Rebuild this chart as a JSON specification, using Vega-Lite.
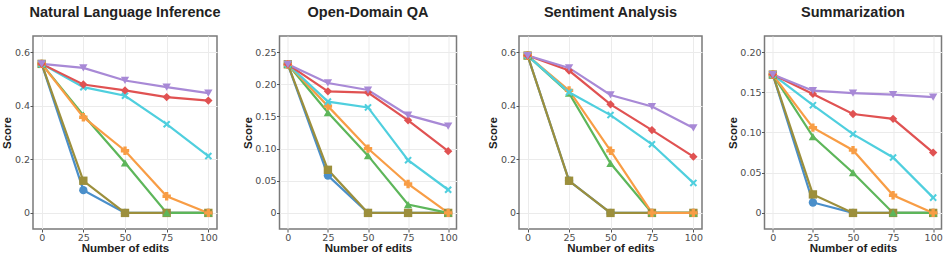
{
  "$schema": "https://vega.github.io/schema/vega-lite/v6.json",
  "background": "white",
  "padding": {"left": 1, "top": 3, "right": 0, "bottom": 0},
  "bounds": "flush",
  "spacing": 62.5,
  "config": {
    "view": {"stroke": "#7a7a7a", "strokeWidth": 1.5},
    "title": {"font": "Liberation Sans", "fontSize": 14.5, "fontWeight": "bold", "color": "#222222", "offset": 16},
    "axis": {
      "labelFont": "DejaVu Sans", "labelFontSize": 9.5, "labelColor": "#4d4d4d",
      "titleFont": "Liberation Sans", "titleFontSize": 11.5, "titleFontWeight": "bold", "titleColor": "#222222",
      "gridColor": "#ebebeb", "gridWidth": 1, "domain": false,
      "tickColor": "#555555", "tickSize": 3, "labelPadding": 0.5
    },
    "axisX": {"titleY": 13.5, "titleBaseline": "top", "labelPadding": 0},
    "axisY": {"titlePadding": 1.5}
  },
  "data": {"values": [
    {"task":"NLI","method":"m1","edits":0,"score":0.556},{"task":"NLI","method":"m1","edits":25,"score":0.085},{"task":"NLI","method":"m1","edits":50,"score":0},{"task":"NLI","method":"m1","edits":75,"score":0},{"task":"NLI","method":"m1","edits":100,"score":0},
    {"task":"NLI","method":"m2","edits":0,"score":0.556},{"task":"NLI","method":"m2","edits":25,"score":0.12},{"task":"NLI","method":"m2","edits":50,"score":0},{"task":"NLI","method":"m2","edits":75,"score":0},{"task":"NLI","method":"m2","edits":100,"score":0},
    {"task":"NLI","method":"m3","edits":0,"score":0.556},{"task":"NLI","method":"m3","edits":25,"score":0.365},{"task":"NLI","method":"m3","edits":50,"score":0.187},{"task":"NLI","method":"m3","edits":75,"score":0},{"task":"NLI","method":"m3","edits":100,"score":0},
    {"task":"NLI","method":"m4","edits":0,"score":0.556},{"task":"NLI","method":"m4","edits":25,"score":0.357},{"task":"NLI","method":"m4","edits":50,"score":0.232},{"task":"NLI","method":"m4","edits":75,"score":0.062},{"task":"NLI","method":"m4","edits":100,"score":0},
    {"task":"NLI","method":"m5","edits":0,"score":0.556},{"task":"NLI","method":"m5","edits":25,"score":0.469},{"task":"NLI","method":"m5","edits":50,"score":0.437},{"task":"NLI","method":"m5","edits":75,"score":0.331},{"task":"NLI","method":"m5","edits":100,"score":0.212},
    {"task":"NLI","method":"m6","edits":0,"score":0.556},{"task":"NLI","method":"m6","edits":25,"score":0.479},{"task":"NLI","method":"m6","edits":50,"score":0.457},{"task":"NLI","method":"m6","edits":75,"score":0.432},{"task":"NLI","method":"m6","edits":100,"score":0.419},
    {"task":"NLI","method":"m7","edits":0,"score":0.556},{"task":"NLI","method":"m7","edits":25,"score":0.541},{"task":"NLI","method":"m7","edits":50,"score":0.494},{"task":"NLI","method":"m7","edits":75,"score":0.469},{"task":"NLI","method":"m7","edits":100,"score":0.447},

    {"task":"QA","method":"m1","edits":0,"score":0.231},{"task":"QA","method":"m1","edits":25,"score":0.058},{"task":"QA","method":"m1","edits":50,"score":0},{"task":"QA","method":"m1","edits":75,"score":0},{"task":"QA","method":"m1","edits":100,"score":0},
    {"task":"QA","method":"m2","edits":0,"score":0.231},{"task":"QA","method":"m2","edits":25,"score":0.067},{"task":"QA","method":"m2","edits":50,"score":0},{"task":"QA","method":"m2","edits":75,"score":0},{"task":"QA","method":"m2","edits":100,"score":0},
    {"task":"QA","method":"m3","edits":0,"score":0.231},{"task":"QA","method":"m3","edits":25,"score":0.156},{"task":"QA","method":"m3","edits":50,"score":0.089},{"task":"QA","method":"m3","edits":75,"score":0.013},{"task":"QA","method":"m3","edits":100,"score":0},
    {"task":"QA","method":"m4","edits":0,"score":0.231},{"task":"QA","method":"m4","edits":25,"score":0.166},{"task":"QA","method":"m4","edits":50,"score":0.100},{"task":"QA","method":"m4","edits":75,"score":0.045},{"task":"QA","method":"m4","edits":100,"score":0},
    {"task":"QA","method":"m5","edits":0,"score":0.231},{"task":"QA","method":"m5","edits":25,"score":0.173},{"task":"QA","method":"m5","edits":50,"score":0.164},{"task":"QA","method":"m5","edits":75,"score":0.082},{"task":"QA","method":"m5","edits":100,"score":0.036},
    {"task":"QA","method":"m6","edits":0,"score":0.231},{"task":"QA","method":"m6","edits":25,"score":0.189},{"task":"QA","method":"m6","edits":50,"score":0.187},{"task":"QA","method":"m6","edits":75,"score":0.144},{"task":"QA","method":"m6","edits":100,"score":0.096},
    {"task":"QA","method":"m7","edits":0,"score":0.231},{"task":"QA","method":"m7","edits":25,"score":0.202},{"task":"QA","method":"m7","edits":50,"score":0.191},{"task":"QA","method":"m7","edits":75,"score":0.152},{"task":"QA","method":"m7","edits":100,"score":0.135},

    {"task":"SA","method":"m1","edits":0,"score":0.587},{"task":"SA","method":"m1","edits":25,"score":0.12},{"task":"SA","method":"m1","edits":50,"score":0},{"task":"SA","method":"m1","edits":75,"score":0},{"task":"SA","method":"m1","edits":100,"score":0},
    {"task":"SA","method":"m2","edits":0,"score":0.587},{"task":"SA","method":"m2","edits":25,"score":0.12},{"task":"SA","method":"m2","edits":50,"score":0},{"task":"SA","method":"m2","edits":75,"score":0},{"task":"SA","method":"m2","edits":100,"score":0},
    {"task":"SA","method":"m3","edits":0,"score":0.587},{"task":"SA","method":"m3","edits":25,"score":0.447},{"task":"SA","method":"m3","edits":50,"score":0.185},{"task":"SA","method":"m3","edits":75,"score":0},{"task":"SA","method":"m3","edits":100,"score":0},
    {"task":"SA","method":"m4","edits":0,"score":0.587},{"task":"SA","method":"m4","edits":25,"score":0.457},{"task":"SA","method":"m4","edits":50,"score":0.232},{"task":"SA","method":"m4","edits":75,"score":0},{"task":"SA","method":"m4","edits":100,"score":0},
    {"task":"SA","method":"m5","edits":0,"score":0.587},{"task":"SA","method":"m5","edits":25,"score":0.450},{"task":"SA","method":"m5","edits":50,"score":0.365},{"task":"SA","method":"m5","edits":75,"score":0.256},{"task":"SA","method":"m5","edits":100,"score":0.112},
    {"task":"SA","method":"m6","edits":0,"score":0.587},{"task":"SA","method":"m6","edits":25,"score":0.531},{"task":"SA","method":"m6","edits":50,"score":0.405},{"task":"SA","method":"m6","edits":75,"score":0.309},{"task":"SA","method":"m6","edits":100,"score":0.210},
    {"task":"SA","method":"m7","edits":0,"score":0.587},{"task":"SA","method":"m7","edits":25,"score":0.541},{"task":"SA","method":"m7","edits":50,"score":0.440},{"task":"SA","method":"m7","edits":75,"score":0.397},{"task":"SA","method":"m7","edits":100,"score":0.317},

    {"task":"SUM","method":"m1","edits":0,"score":0.172},{"task":"SUM","method":"m1","edits":25,"score":0.013},{"task":"SUM","method":"m1","edits":50,"score":0},{"task":"SUM","method":"m1","edits":75,"score":0},{"task":"SUM","method":"m1","edits":100,"score":0},
    {"task":"SUM","method":"m2","edits":0,"score":0.172},{"task":"SUM","method":"m2","edits":25,"score":0.023},{"task":"SUM","method":"m2","edits":50,"score":0},{"task":"SUM","method":"m2","edits":75,"score":0},{"task":"SUM","method":"m2","edits":100,"score":0},
    {"task":"SUM","method":"m3","edits":0,"score":0.172},{"task":"SUM","method":"m3","edits":25,"score":0.095},{"task":"SUM","method":"m3","edits":50,"score":0.050},{"task":"SUM","method":"m3","edits":75,"score":0},{"task":"SUM","method":"m3","edits":100,"score":0},
    {"task":"SUM","method":"m4","edits":0,"score":0.172},{"task":"SUM","method":"m4","edits":25,"score":0.106},{"task":"SUM","method":"m4","edits":50,"score":0.078},{"task":"SUM","method":"m4","edits":75,"score":0.022},{"task":"SUM","method":"m4","edits":100,"score":0},
    {"task":"SUM","method":"m5","edits":0,"score":0.172},{"task":"SUM","method":"m5","edits":25,"score":0.134},{"task":"SUM","method":"m5","edits":50,"score":0.098},{"task":"SUM","method":"m5","edits":75,"score":0.069},{"task":"SUM","method":"m5","edits":100,"score":0.019},
    {"task":"SUM","method":"m6","edits":0,"score":0.172},{"task":"SUM","method":"m6","edits":25,"score":0.148},{"task":"SUM","method":"m6","edits":50,"score":0.123},{"task":"SUM","method":"m6","edits":75,"score":0.117},{"task":"SUM","method":"m6","edits":100,"score":0.075},
    {"task":"SUM","method":"m7","edits":0,"score":0.172},{"task":"SUM","method":"m7","edits":25,"score":0.152},{"task":"SUM","method":"m7","edits":50,"score":0.149},{"task":"SUM","method":"m7","edits":75,"score":0.147},{"task":"SUM","method":"m7","edits":100,"score":0.144}
  ]},
  "hconcat": [
    {
      "width": 184, "height": 193,
      "title": "Natural Language Inference",
      "transform": [{"filter": "datum.task == 'NLI'"}],
      "encoding": {
        "x": {"field": "edits", "type": "quantitative", "scale": {"domain": [-5.2, 105.2], "nice": false, "zero": false}, "axis": {"values": [0, 25, 50, 75, 100], "title": "Number of edits"}},
        "y": {"field": "score", "type": "quantitative", "scale": {"domain": [-0.06, 0.66], "nice": false, "zero": false}, "axis": {"values": [0, 0.2, 0.4, 0.6], "labelExpr": "datum.value == 0 ? '0' : format(datum.value, '.1f')", "title": "Score"}},
        "color": {"field": "method", "type": "nominal", "legend": null, "scale": {"domain": ["m1","m2","m3","m4","m5","m6","m7"], "range": ["#4a8fca","#9c8f3c","#5db65a","#f89d45","#4fcfde","#e05252","#a889d6"]}}
      },
      "layer": [
        {"mark": {"type": "line", "strokeWidth": 2.2}},
        {"mark": {"type": "point", "filled": true, "opacity": 1},
         "encoding": {
           "shape": {"field": "method", "type": "nominal", "legend": null, "scale": {"domain": ["m1","m2","m3","m4","m5","m6","m7"], "range": ["circle","square","triangle-up","cross","M-0.9,-0.55L-0.55,-0.9L0,-0.35L0.55,-0.9L0.9,-0.55L0.35,0L0.9,0.55L0.55,0.9L0,0.35L-0.55,0.9L-0.9,0.55L-0.35,0Z","diamond","triangle-down"]}},
           "size": {"field": "method", "type": "nominal", "legend": null, "scale": {"domain": ["m1","m2","m3","m4","m5","m6","m7"], "range": [70, 70, 75, 90, 90, 115, 75]}}
         }}
      ]
    },
    {
      "width": 177, "height": 193,
      "title": "Open-Domain QA",
      "transform": [{"filter": "datum.task == 'QA'"}],
      "encoding": {
        "x": {"field": "edits", "type": "quantitative", "scale": {"domain": [-5.2, 105.2], "nice": false, "zero": false}, "axis": {"values": [0, 25, 50, 75, 100], "title": "Number of edits"}},
        "y": {"field": "score", "type": "quantitative", "scale": {"domain": [-0.025, 0.275], "nice": false, "zero": false}, "axis": {"values": [0, 0.05, 0.1, 0.15, 0.2, 0.25], "labelExpr": "datum.value == 0 ? '0' : format(datum.value, '.2f')", "title": "Score"}},
        "color": {"field": "method", "type": "nominal", "legend": null, "scale": {"domain": ["m1","m2","m3","m4","m5","m6","m7"], "range": ["#4a8fca","#9c8f3c","#5db65a","#f89d45","#4fcfde","#e05252","#a889d6"]}}
      },
      "layer": [
        {"mark": {"type": "line", "strokeWidth": 2.2}},
        {"mark": {"type": "point", "filled": true, "opacity": 1},
         "encoding": {
           "shape": {"field": "method", "type": "nominal", "legend": null, "scale": {"domain": ["m1","m2","m3","m4","m5","m6","m7"], "range": ["circle","square","triangle-up","cross","M-0.9,-0.55L-0.55,-0.9L0,-0.35L0.55,-0.9L0.9,-0.55L0.35,0L0.9,0.55L0.55,0.9L0,0.35L-0.55,0.9L-0.9,0.55L-0.35,0Z","diamond","triangle-down"]}},
           "size": {"field": "method", "type": "nominal", "legend": null, "scale": {"domain": ["m1","m2","m3","m4","m5","m6","m7"], "range": [70, 70, 75, 90, 90, 115, 75]}}
         }}
      ]
    },
    {
      "width": 183, "height": 193,
      "title": "Sentiment Analysis",
      "transform": [{"filter": "datum.task == 'SA'"}],
      "encoding": {
        "x": {"field": "edits", "type": "quantitative", "scale": {"domain": [-5.2, 105.2], "nice": false, "zero": false}, "axis": {"values": [0, 25, 50, 75, 100], "title": "Number of edits"}},
        "y": {"field": "score", "type": "quantitative", "scale": {"domain": [-0.06, 0.66], "nice": false, "zero": false}, "axis": {"values": [0, 0.2, 0.4, 0.6], "labelExpr": "datum.value == 0 ? '0' : format(datum.value, '.1f')", "title": "Score"}},
        "color": {"field": "method", "type": "nominal", "legend": null, "scale": {"domain": ["m1","m2","m3","m4","m5","m6","m7"], "range": ["#4a8fca","#9c8f3c","#5db65a","#f89d45","#4fcfde","#e05252","#a889d6"]}}
      },
      "layer": [
        {"mark": {"type": "line", "strokeWidth": 2.2}},
        {"mark": {"type": "point", "filled": true, "opacity": 1},
         "encoding": {
           "shape": {"field": "method", "type": "nominal", "legend": null, "scale": {"domain": ["m1","m2","m3","m4","m5","m6","m7"], "range": ["circle","square","triangle-up","cross","M-0.9,-0.55L-0.55,-0.9L0,-0.35L0.55,-0.9L0.9,-0.55L0.35,0L0.9,0.55L0.55,0.9L0,0.35L-0.55,0.9L-0.9,0.55L-0.35,0Z","diamond","triangle-down"]}},
           "size": {"field": "method", "type": "nominal", "legend": null, "scale": {"domain": ["m1","m2","m3","m4","m5","m6","m7"], "range": [70, 70, 75, 90, 90, 115, 75]}}
         }}
      ]
    },
    {
      "width": 177, "height": 193,
      "title": "Summarization",
      "transform": [{"filter": "datum.task == 'SUM'"}],
      "encoding": {
        "x": {"field": "edits", "type": "quantitative", "scale": {"domain": [-5.2, 105.2], "nice": false, "zero": false}, "axis": {"values": [0, 25, 50, 75, 100], "title": "Number of edits"}},
        "y": {"field": "score", "type": "quantitative", "scale": {"domain": [-0.02, 0.22], "nice": false, "zero": false}, "axis": {"values": [0, 0.05, 0.1, 0.15, 0.2], "labelExpr": "datum.value == 0 ? '0' : format(datum.value, '.2f')", "title": "Score"}},
        "color": {"field": "method", "type": "nominal", "legend": null, "scale": {"domain": ["m1","m2","m3","m4","m5","m6","m7"], "range": ["#4a8fca","#9c8f3c","#5db65a","#f89d45","#4fcfde","#e05252","#a889d6"]}}
      },
      "layer": [
        {"mark": {"type": "line", "strokeWidth": 2.2}},
        {"mark": {"type": "point", "filled": true, "opacity": 1},
         "encoding": {
           "shape": {"field": "method", "type": "nominal", "legend": null, "scale": {"domain": ["m1","m2","m3","m4","m5","m6","m7"], "range": ["circle","square","triangle-up","cross","M-0.9,-0.55L-0.55,-0.9L0,-0.35L0.55,-0.9L0.9,-0.55L0.35,0L0.9,0.55L0.55,0.9L0,0.35L-0.55,0.9L-0.9,0.55L-0.35,0Z","diamond","triangle-down"]}},
           "size": {"field": "method", "type": "nominal", "legend": null, "scale": {"domain": ["m1","m2","m3","m4","m5","m6","m7"], "range": [70, 70, 75, 90, 90, 115, 75]}}
         }}
      ]
    }
  ],
  "resolve": {"scale": {"y": "independent", "x": "independent"}}
}
